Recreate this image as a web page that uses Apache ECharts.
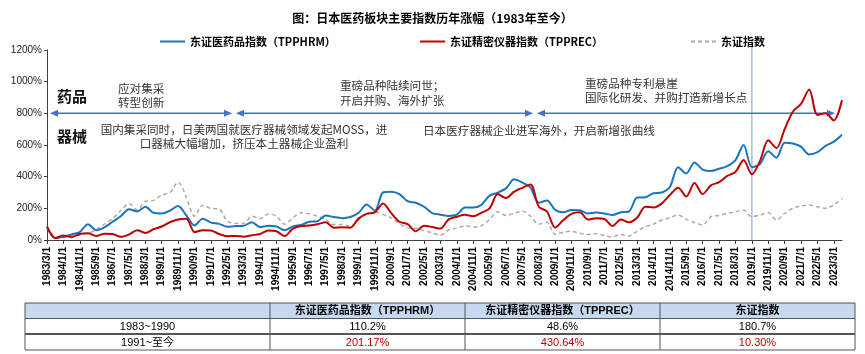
<!DOCTYPE html>
<html lang="zh-CN">
<head>
<meta charset="UTF-8">
<title>日本医药板块主要指数历年涨幅</title>
<script src="https://cdn.jsdelivr.net/npm/echarts@6/dist/echarts.min.js"></script>
<style>
    html, body { margin: 0; padding: 0; background: #fff; }
    #main { width: 865px; height: 354px; }
</style>
</head>
<body>
<div id="main"></div>
<script type="text/javascript">
    // 数据：1983/3 起每 5 个月一个点（读图估计，单位 %）
    var startYear = 1983, startMonth = 3, stepMonths = 5, pointCount = 98;

    var pharma = [85, 12, 20, 35, 50, 100, 62, 80, 115, 150,
        195, 180, 210, 172, 168, 185, 215, 155, 92, 135,
        110, 102, 83, 88, 90, 112, 82, 90, 85, 62,
        86, 95, 115, 118, 155, 145, 138, 145, 170, 225,
        185, 300, 305, 290, 245, 235, 210, 170, 160, 152,
        160, 205, 205, 222, 280, 299, 326, 383, 362, 330,
        235, 250, 190, 175, 190, 188, 168, 173, 168, 158,
        175, 180, 268, 270, 295, 300, 335, 460, 420, 490,
        445, 436, 450, 467, 505, 600, 460, 480, 560, 520,
        615, 610, 590, 540, 555, 595, 621, 665];

    var device = [84, 12, 28, 18, 38, 42, 25, 40, 38, 20,
        35, 62, 45, 68, 85, 112, 130, 135, 50, 62,
        60, 38, 24, 26, 21, 30, 38, 60, 55, 25,
        72, 88, 92, 100, 112, 78, 80, 78, 135, 165,
        175, 230, 170, 115, 100, 55, 90, 82, 72, 130,
        147, 160, 150, 172, 200, 290, 265, 305, 330, 350,
        210, 180, 78, 126, 165, 175, 130, 137, 133, 88,
        130, 112, 140, 210, 206, 230, 284, 330, 275, 360,
        290, 345, 365, 405, 430, 505, 415, 500, 630, 580,
        700, 810, 860, 950, 790, 800, 755, 884];

    var topix = [85, 20, 15, 27, 32, 42, 63, 100, 135, 185,
        230, 190, 245, 250, 285, 300, 365, 270, 150, 220,
        200, 195, 120, 105, 105, 150, 135, 165, 150, 100,
        140, 172, 165, 150, 130, 97, 98, 86, 125, 165,
        178, 160, 140, 105, 75, 74, 60, 45, 30, 63,
        75, 90, 82, 90, 130, 178, 155, 168, 182, 150,
        100, 112, 35, 50, 55, 42, 35, 40, 28, 20,
        35, 25, 55, 84, 100, 126, 140, 158, 130, 110,
        95, 147, 155, 168, 178, 189, 147, 158, 173, 126,
        168, 200, 215, 221, 210, 200, 221, 263];

    var seriesNames = ['东证医药品指数（TPPHRM）', '东证精密仪器指数（TPPREC）', '东证指数'];
    var markDate = '2019/1/1';

    // 底部表格
    var tableHead = ['', '东证医药品指数（TPPHRM）', '东证精密仪器指数（TPPREC）', '东证指数'];
    var periodLabels = ['1983~1990', '1991~至今'];
    var periodPharma = ['110.2%', '201.17%'];
    var periodDevice = ['48.6%', '430.64%'];
    var periodTopix = ['180.7%', '10.30%'];

    var latin = "'Liberation Sans', Arial, 'Noto Sans CJK SC', sans-serif";
    var cjk = "'Noto Sans CJK SC', 'Liberation Sans', sans-serif";

    var dates = [];
    for (var i = 0; i < pointCount; i++) {
        var m = startMonth - 1 + i * stepMonths;
        dates.push((startYear + Math.floor(m / 12)) + '/' + (m % 12 + 1) + '/1');
    }

    var myChart = echarts.init(document.getElementById('main'));

    var solidIcon = 'path://M0,0H25V2H0Z';
    var dashIcon = 'path://M0,0H4V2H0ZM7,0H11V2H7ZM14,0H18V2H14ZM21,0H25V2H21Z';
    var legendText = {fontSize: 11, fontWeight: 'bold', color: '#000', fontFamily: cjk};
    var option = {
        animation: false,
        backgroundColor: '#fff',
        title: {
            text: '图：日本医药板块主要指数历年涨幅（1983年至今）',
            left: 'center',
            top: 7,
            textStyle: {fontSize: 12, fontWeight: 'bold', color: '#000', fontFamily: cjk}
        },
        legend: [
            {data: [{name: seriesNames[0], icon: solidIcon}], left: 155, top: 31, itemWidth: 25, itemHeight: 2, textStyle: legendText},
            {data: [{name: seriesNames[1], icon: solidIcon}], left: 415, top: 31, itemWidth: 25, itemHeight: 2, textStyle: legendText},
            {data: [{name: seriesNames[2], icon: dashIcon}], left: 686, top: 31, itemWidth: 25, itemHeight: 2, textStyle: legendText}
        ],
        grid: {left: 47, right: 23, top: 50, bottom: 114},
        xAxis: {
            type: 'category',
            data: dates,
            boundaryGap: false,
            axisLine: {lineStyle: {color: '#404040', width: 1}},
            axisTick: {interval: 1, length: 4, lineStyle: {color: '#404040'}},
            axisLabel: {
                interval: 1,
                rotate: 90,
                margin: 7,
                fontSize: 10,
                fontWeight: 'bold',
                color: '#000',
                fontFamily: latin
            },
            splitLine: {show: false}
        },
        yAxis: {
            type: 'value',
            min: 0,
            max: 1200,
            interval: 200,
            axisLine: {show: true, lineStyle: {color: '#404040'}},
            axisTick: {show: true, length: 3, lineStyle: {color: '#404040'}},
            axisLabel: {
                formatter: function (v) { return v + '%'; },
                fontSize: 10, color: '#222', margin: 5, fontFamily: latin
            },
            splitLine: {show: false}
        },
        series: [
            {
                name: seriesNames[2],
                type: 'line',
                data: topix,
                symbol: 'none',
                smooth: 0.3,
                z: 1,
                itemStyle: {color: '#ABABAB'},
                lineStyle: {color: '#ABABAB', width: 1.5, type: [4, 3]}
            },
            {
                name: seriesNames[0],
                type: 'line',
                data: pharma,
                symbol: 'none',
                smooth: 0.3,
                z: 2,
                itemStyle: {color: '#1C75BC'},
                lineStyle: {color: '#1C75BC', width: 2}
            },
            {
                name: seriesNames[1],
                type: 'line',
                data: device,
                symbol: 'none',
                smooth: 0.3,
                z: 3,
                itemStyle: {color: '#C00000'},
                lineStyle: {color: '#C00000', width: 2}
            }
        ]
    };
    myChart.setOption(option);

    // 标注、箭头、竖线、表格
    var g = [];
    var y800 = myChart.convertToPixel({yAxisIndex: 0}, 800);
    var y0 = myChart.convertToPixel({yAxisIndex: 0}, 0);
    var xMark = myChart.convertToPixel({xAxisIndex: 0}, markDate);

    g.push({type: 'line', z: 0, shape: {x1: xMark, y1: 40, x2: xMark, y2: y0},
        style: {stroke: '#A9BDE0', lineWidth: 1.5}});

    var arrowSpans = [[50, 232], [236, 533], [537, 835]];
    arrowSpans.forEach(function (s) {
        g.push({type: 'line', shape: {x1: s[0] + 4, y1: y800, x2: s[1] - 4, y2: y800},
            style: {stroke: '#4472C4', lineWidth: 1.5}});
        g.push({type: 'polygon', shape: {points: [[s[0], y800], [s[0] + 8, y800 - 3.5], [s[0] + 8, y800 + 3.5]]},
            style: {fill: '#4472C4'}});
        g.push({type: 'polygon', shape: {points: [[s[1], y800], [s[1] - 8, y800 - 3.5], [s[1] - 8, y800 + 3.5]]},
            style: {fill: '#4472C4'}});
    });

    function note(text, x, y, opts) {
        opts = opts || {};
        g.push({
            type: 'text', x: x, y: y, z: 10,
            style: {
                text: text,
                fill: opts.color || '#333',
                fontSize: opts.size || 11.6,
                fontWeight: opts.weight || 'normal',
                fontFamily: cjk,
                align: opts.align || 'left',
                verticalAlign: 'middle',
                lineHeight: opts.lh || 14
            }
        });
    }
    note('药品', 57, 96, {size: 15, weight: 'bold', color: '#111'});
    note('器械', 57, 136, {size: 15, weight: 'bold', color: '#111'});
    note('应对集采\n转型创新', 118, 96, {lh: 14});
    note('重磅品种陆续问世；\n开启并购、海外扩张', 340, 93, {lh: 15});
    note('重磅品种专利悬崖\n国际化研发、并购打造新增长点', 585, 91, {lh: 14});
    note('国内集采同时，日美两国就医疗器械领域发起MOSS，进\n口器械大幅增加，挤压本土器械企业盈利', 244, 137, {align: 'center', lh: 14});
    note('日本医疗器械企业进军海外，开启新增张曲线', 423, 131);

    // 表格
    var colX = [25, 270, 465, 660, 855];
    var rowY = [303, 318.5, 334, 350];
    g.push({type: 'rect', shape: {x: colX[0], y: rowY[0], width: colX[4] - colX[0], height: rowY[1] - rowY[0]},
        style: {fill: '#C6D9F1'}});
    g.push({type: 'rect', shape: {x: colX[0], y: rowY[0], width: colX[4] - colX[0], height: rowY[3] - rowY[0]},
        style: {fill: 'none', stroke: '#555', lineWidth: 1}});
    g.push({type: 'line', shape: {x1: colX[0], y1: rowY[1], x2: colX[4], y2: rowY[1]}, style: {stroke: '#555', lineWidth: 1}});
    g.push({type: 'line', shape: {x1: colX[0], y1: rowY[2], x2: colX[4], y2: rowY[2]}, style: {stroke: '#555', lineWidth: 2}});
    for (var c = 1; c < 4; c++) {
        g.push({type: 'line', shape: {x1: colX[c], y1: rowY[0], x2: colX[c], y2: rowY[3]}, style: {stroke: '#555', lineWidth: 1}});
    }
    function cell(text, col, row, color, bold) {
        g.push({
            type: 'text', x: (colX[col] + colX[col + 1]) / 2, y: (rowY[row] + rowY[row + 1]) / 2 + 0.5,
            style: {text: text, fill: color, fontSize: 11, fontWeight: bold ? 'bold' : 'normal',
                fontFamily: latin, align: 'center', verticalAlign: 'middle'}
        });
    }
    for (var h = 1; h < 4; h++) cell(tableHead[h], h, 0, '#000', true);
    for (var r = 0; r < 2; r++) {
        var vc = r === 0 ? '#000' : '#C00000';
        cell(periodLabels[r], 0, r + 1, '#000');
        cell(periodPharma[r], 1, r + 1, vc);
        cell(periodDevice[r], 2, r + 1, vc);
        cell(periodTopix[r], 3, r + 1, vc);
    }

    myChart.setOption({graphic: g});
</script>
</body>
</html>
